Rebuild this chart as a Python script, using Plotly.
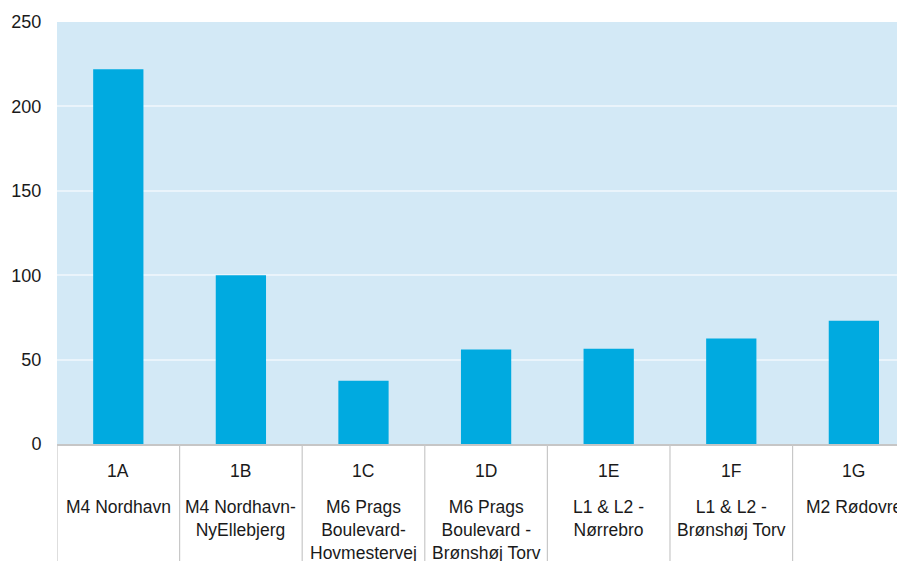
import plotly.graph_objects as go

codes = ["1A", "1B", "1C", "1D", "1E", "1F", "1G"]
names = ["M4 Nordhavn", "M4 Nordhavn-<br>NyEllebjerg", "M6 Prags<br>Boulevard-<br>Hovmestervej",
         "M6 Prags<br>Boulevard -<br>Brønshøj Torv", "L1 & L2 -<br>Nørrebro",
         "L1 & L2 -<br>Brønshøj Torv", "M2 Rødovre"]
values = [222, 100, 37.5, 56, 56.5, 62.5, 73]
y_ticks = [0, 50, 100, 150, 200, 250]

FONT = "Liberation Sans, Arial, sans-serif"
TXT = "#1a1a1a"

xs = list(range(len(codes)))
fig = go.Figure(go.Bar(x=xs, y=values, width=0.41, marker_color="#00AAE0",
                       marker_line_width=0, hoverinfo="skip"))

annotations = []
shapes = []
for i, (c, n) in enumerate(zip(codes, names)):
    annotations.append(dict(x=i, y=-0.063, xref="x", yref="paper", text=c, showarrow=False,
                            font=dict(family=FONT, size=17.5, color=TXT), yanchor="middle"))
    annotations.append(dict(x=i, y=-0.121, xref="x", yref="paper", text=n, showarrow=False,
                            font=dict(family=FONT, size=17.5, color=TXT), yanchor="top",
                            align="center"))
for k in range(len(codes) + 1):
    shapes.append(dict(type="line", xref="x", yref="paper", x0=k - 0.5, x1=k - 0.5,
                       y0=0, y1=-0.3, line=dict(color="#c8c8c8", width=1.2)))

fig.update_layout(
    width=897, height=553,
    margin=dict(l=49, r=0, t=14, b=116.5),
    paper_bgcolor="white", plot_bgcolor="#D3E9F6",
    showlegend=False,
    annotations=annotations, shapes=shapes,
    xaxis=dict(range=[-0.5, 6.417], showticklabels=False, showgrid=False, zeroline=False,
               showline=True, linecolor="#c6c6c6", linewidth=1.5, fixedrange=True),
    yaxis=dict(range=[0, 250], tickvals=y_ticks, showgrid=True, gridcolor="#EAF4FB",
               gridwidth=1.5, zeroline=False, ticks="outside", ticklen=11,
               tickcolor="rgba(0,0,0,0)", tickfont=dict(family=FONT, size=18, color=TXT),
               fixedrange=True),
)
fig.write_html("out.html")
